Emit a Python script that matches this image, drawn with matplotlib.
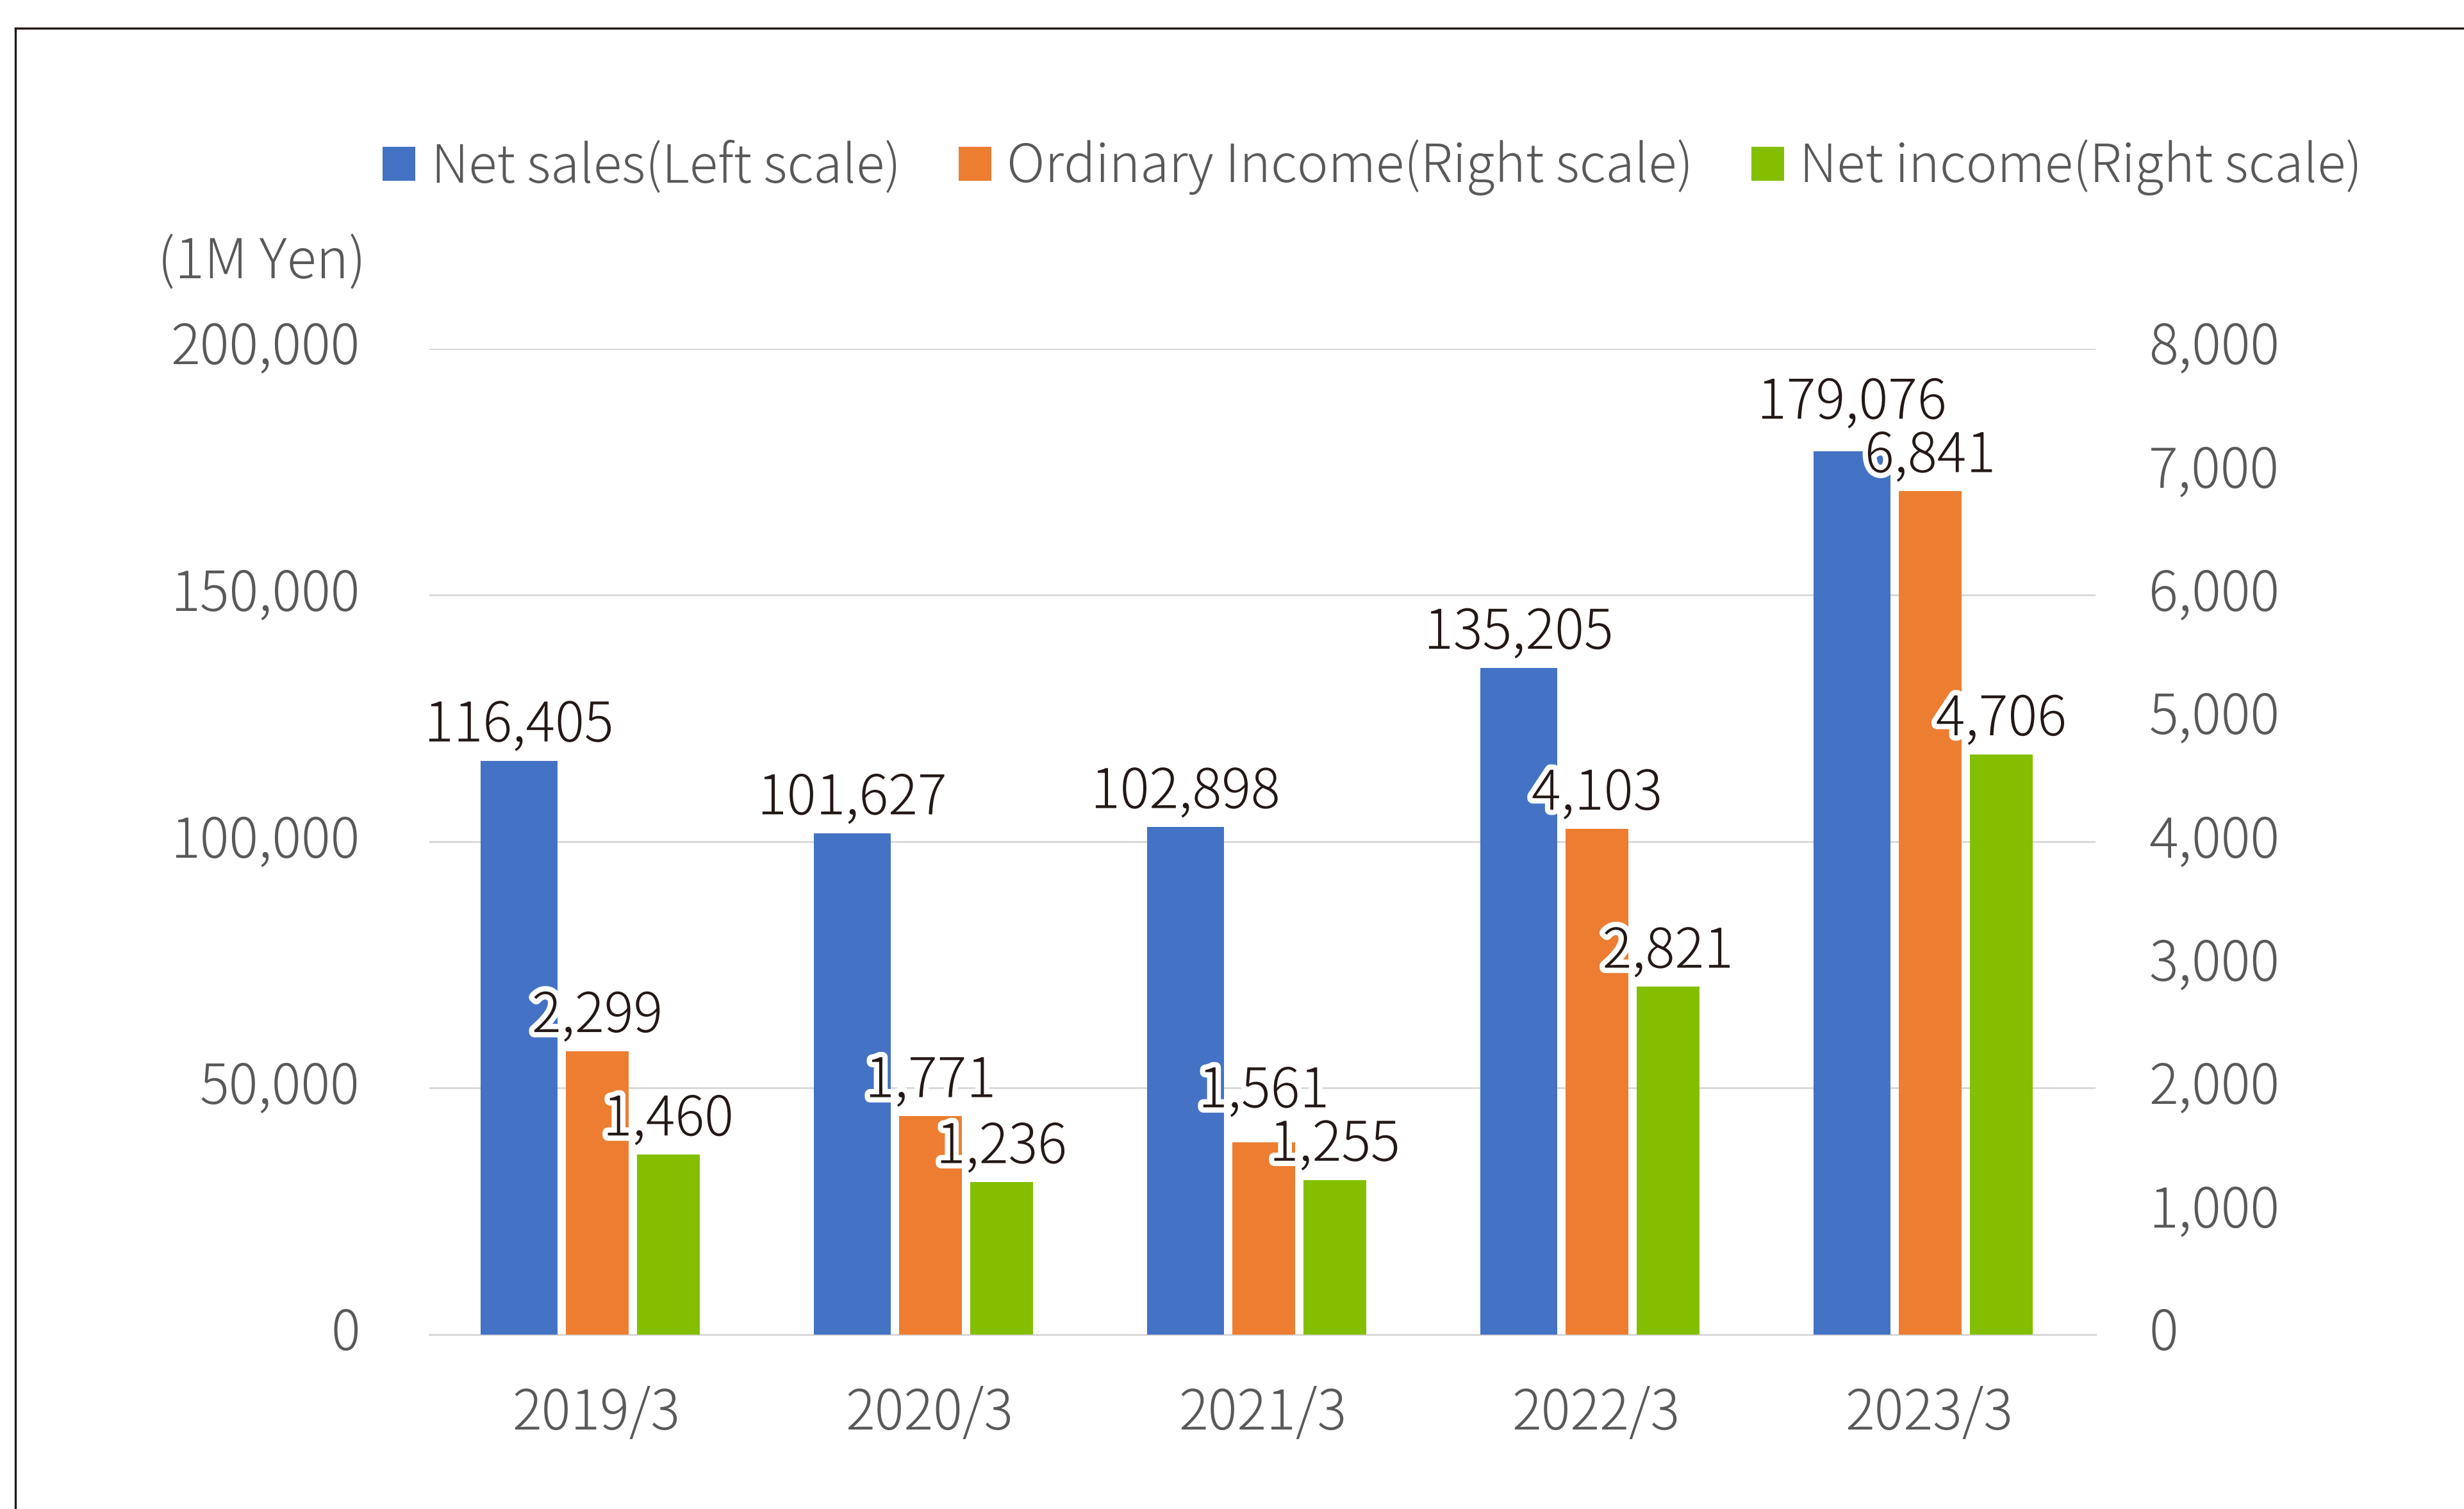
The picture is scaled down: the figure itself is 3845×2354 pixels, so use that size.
import numpy as np
import matplotlib
matplotlib.use("Agg")
import matplotlib.pyplot as plt
import matplotlib.patheffects as pe
from matplotlib.ticker import FuncFormatter
from matplotlib.transforms import ScaledTranslation

plt.rcParams['font.family'] = ['Noto Sans CJK JP', 'DejaVu Sans']
plt.rcParams['font.weight'] = 'light'

# data
years = ["2019/3", "2020/3", "2021/3", "2022/3", "2023/3"]
net_sales = [116405, 101627, 102898, 135205, 179076]
ordinary_income = [2299, 1771, 1561, 4103, 6841]
net_income = [1460, 1236, 1255, 2821, 4706]

series_names = ["Net sales(Left scale)", "Ordinary Income(Right scale)", "Net income(Right scale)"]

c_blue = "#4472C4"
c_orange = "#ED7D31"
c_green = "#83BF00"
c_text = "#595959"
c_label = "#231815"
c_grid = "#D9D9D9"
fs = 20.5

fig = plt.figure(figsize=(3845 / 300, 2354 / 300), dpi=300)

# outer frame (cut off at the right and bottom edges)
fw, fh = 3845, 2354
fig.add_artist(plt.Line2D([24 / fw, 1.01], [1 - 44 / fh, 1 - 44 / fh], color="#231815", lw=0.8))
fig.add_artist(plt.Line2D([24 / fw, 24 / fw], [1 - 44 / fh, -0.01], color="#231815", lw=0.8))

ax_h = 2082 - 543.5
ax = fig.add_axes([670 / fw, 1 - 2082 / fh, 2600 / fw, ax_h / fh])
ax2 = ax.twinx()

x = np.arange(len(years))

b1 = ax.bar(x - 0.231, net_sales, width=0.231, color=c_blue, zorder=3)
b2 = ax2.bar(x + 0.004, ordinary_income, width=0.188, color=c_orange, zorder=3)
b3 = ax2.bar(x + 0.217, net_income, width=0.188, color=c_green, zorder=3)

ax.set_xlim(-0.5, len(years) - 0.5)
ax.set_ylim(0, 200000)
ax2.set_ylim(0, 8000)
ax.set_yticks(np.arange(0, 200001, 50000))
ax2.set_yticks(np.arange(0, 8001, 1000))

fmt = FuncFormatter(lambda v, p: f"{v:,.0f}")
ax.yaxis.set_major_formatter(fmt)
ax2.yaxis.set_major_formatter(fmt)

ax.grid(axis="y", color=c_grid, lw=0.7, zorder=0)
ax.set_axisbelow(True)
for a in (ax, ax2):
    for s in a.spines.values():
        s.set_visible(False)
ax.spines["bottom"].set_visible(True)
ax.spines["bottom"].set_color(c_grid)
ax.spines["bottom"].set_linewidth(0.7)

ax.set_xticks(x)
ax.set_xticklabels(years)
ax.tick_params(axis="x", length=0, pad=19, labelsize=fs, labelcolor=c_text)
ax.tick_params(axis="y", length=0, pad=26, labelsize=fs, labelcolor=c_text)
ax2.tick_params(axis="y", length=0, pad=20, labelsize=fs, labelcolor=c_text)

# nudge the y tick labels up a little
shift = ScaledTranslation(0, 2.4 / 72, fig.dpi_scale_trans)
for lbl in ax.get_yticklabels() + ax2.get_yticklabels():
    lbl.set_transform(lbl.get_transform() + shift)

ax.text(571 / fw, 1 - 410 / fh, "(1M Yen)", transform=fig.transFigure,
        ha="right", va="center", fontsize=fs, color=c_text)

# data labels: heights in right-scale units, pushed up when the next label is too close
pt_per_unit = (ax_h / 8000) / (300 / 72)
base_off = 13
min_gap = 20
heights = [np.array(net_sales) / 25, np.array(ordinary_income), np.array(net_income)]
offsets = [np.full(len(years), base_off, dtype=float) for _ in heights]
for k in (1, 0):
    for i in range(len(years)):
        gap = (heights[k][i] - heights[k + 1][i]) * pt_per_unit + offsets[k][i] - offsets[k + 1][i]
        if gap < min_gap:
            offsets[k][i] += min_gap - gap

stroke = [pe.withStroke(linewidth=4, foreground="white")]
for k, (bars, a) in enumerate(((b1, ax), (b2, ax2), (b3, ax2))):
    for i, r in enumerate(bars):
        v = r.get_height()
        a.annotate(f"{v:,.0f}", (r.get_x() + r.get_width() / 2, v),
                   xytext=(0, offsets[k][i]), textcoords="offset points",
                   ha="center", va="center", fontsize=fs, color=c_label,
                   path_effects=stroke, zorder=5)

fig.legend([b1, b2, b3], series_names, loc="center", bbox_to_anchor=(0.557, 0.889),
           ncol=3, frameon=False, fontsize=19.7, labelcolor=c_text,
           handlelength=0.62, handleheight=0.62, handletextpad=0.3,
           columnspacing=1.1)

fig.savefig("out.png", dpi=300, facecolor="white")
